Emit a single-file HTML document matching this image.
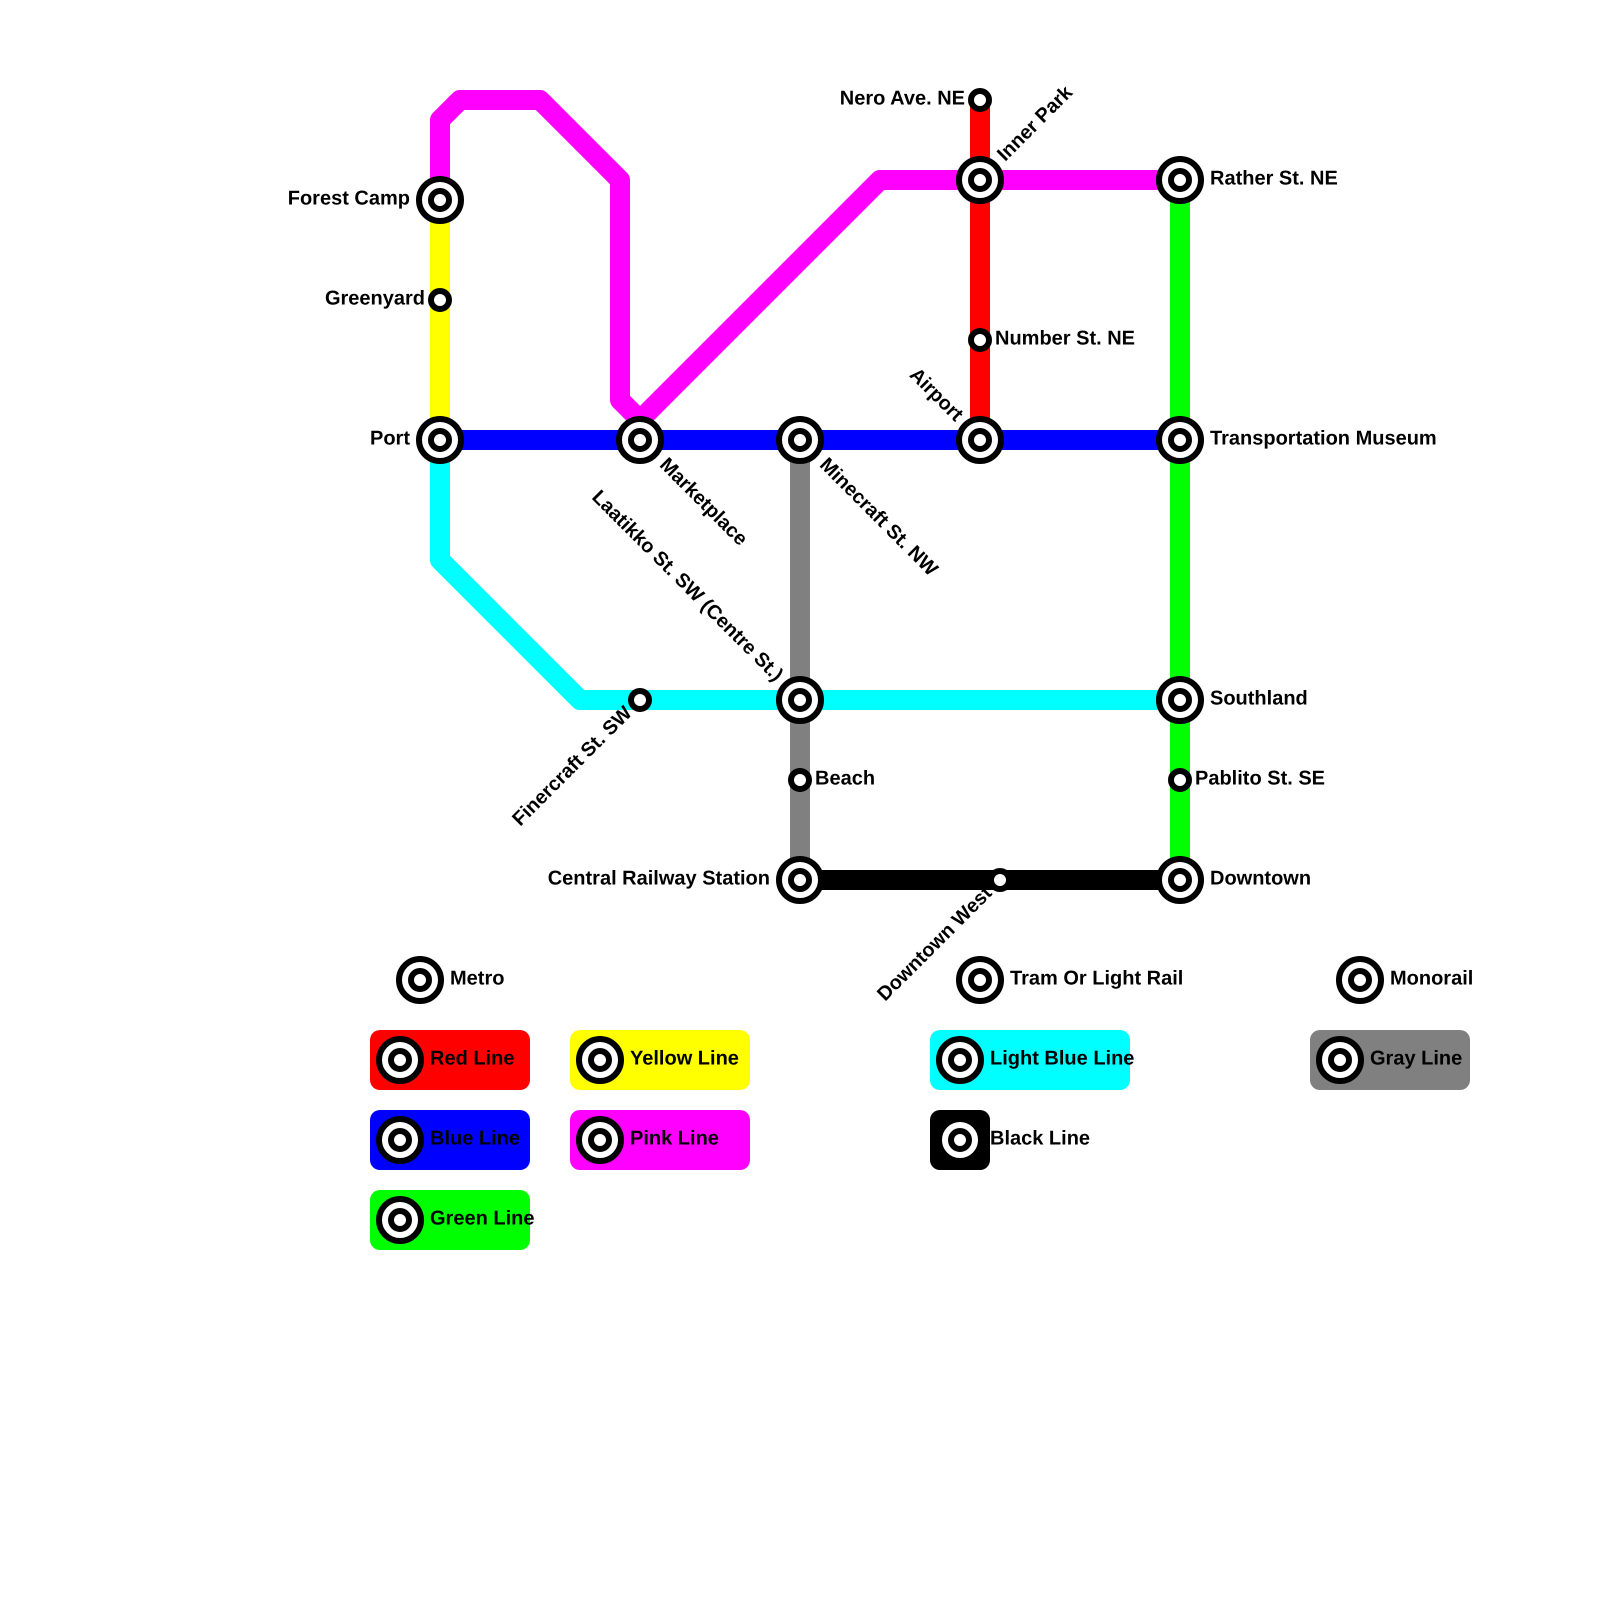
<!DOCTYPE html>
<html><head><meta charset="utf-8"><style>
html,body{margin:0;padding:0;background:#fff}
svg{display:block}
text{font-family:"Liberation Sans",sans-serif;font-weight:bold;font-size:20px;fill:#000;text-rendering:geometricPrecision}
text.r{font-size:19.8px}
.l{fill:none;stroke-width:20;stroke-linejoin:round;stroke-linecap:butt}
.a{fill:#fff;stroke:#000;stroke-width:6}
</style></head><body>
<svg width="1600" height="1600" viewBox="0 0 1600 1600" xmlns="http://www.w3.org/2000/svg">
<defs>
<g id="b"><circle class="a" r="21"/><circle class="a" r="9"/></g>
<g id="s"><circle class="a" r="9"/></g>
</defs>
<rect width="1600" height="1600" fill="#fff"/>
<path class="l" stroke="#ff0000" d="M980 100V440"/>
<path class="l" stroke="#ffff00" d="M440 200V440"/>
<path class="l" stroke="#0000ff" d="M440 440H1180"/>
<path class="l" stroke="#00ff00" d="M1180 180V880"/>
<path class="l" stroke="#ff00ff" d="M440 200V120L460 100H540L620 180V400L640 420L880 180H1180"/>
<path class="l" stroke="#00ffff" d="M440 440V560L580 700H1180"/>
<path class="l" stroke="#808080" d="M800 440V880"/>
<path class="l" stroke="#000000" d="M800 880H1180"/>

<use href="#b" x="440" y="200"/><use href="#s" x="440" y="300"/><use href="#b" x="440" y="440"/>
<use href="#b" x="640" y="440"/><use href="#s" x="640" y="700"/><use href="#b" x="800" y="440"/>
<use href="#b" x="800" y="700"/><use href="#s" x="800" y="780"/><use href="#b" x="800" y="880"/>
<use href="#s" x="980" y="100"/><use href="#b" x="980" y="180"/><use href="#s" x="980" y="340"/>
<use href="#b" x="980" y="440"/><use href="#s" x="1000" y="880"/><use href="#b" x="1180" y="180"/>
<use href="#b" x="1180" y="440"/><use href="#b" x="1180" y="700"/><use href="#s" x="1180" y="780"/>
<use href="#b" x="1180" y="880"/>

<text x="410" y="204.5" text-anchor="end">Forest Camp</text>
<text x="425" y="304.5" text-anchor="end">Greenyard</text>
<text x="410" y="444.5" text-anchor="end">Port</text>
<text x="770" y="884.5" text-anchor="end">Central Railway Station</text>
<text x="965" y="104.5" text-anchor="end">Nero Ave. NE</text>
<text x="1210" y="184.5">Rather St. NE</text>
<text x="995" y="344.5">Number St. NE</text>
<text x="1210" y="444.5">Transportation Museum</text>
<text x="1210" y="704.5">Southland</text>
<text x="1195" y="784.5">Pablito St. SE</text>
<text x="1210" y="884.5">Downtown</text>
<text x="815" y="784.5">Beach</text>

<text class="r" transform="translate(980 180) rotate(-45)" x="30.5" y="5">Inner Park</text>
<text class="r" transform="translate(980 440) rotate(45)" x="-30" y="5" text-anchor="end">Airport</text>
<text class="r" transform="translate(640 440) rotate(45)" x="31.5" y="5">Marketplace</text>
<text class="r" transform="translate(800 440) rotate(45)" x="31.5" y="5">Minecraft St. NW</text>
<text class="r" transform="translate(800 700) rotate(45)" x="-30" y="5" text-anchor="end">Laatikko St. SW (Centre St.)</text>
<text class="r" transform="translate(640 700) rotate(-45)" x="-15" y="5" text-anchor="end">Finercraft St. SW</text>
<text class="r" transform="translate(1000 880) rotate(-45)" x="-15" y="5" text-anchor="end">Downtown West</text>

<use href="#b" x="420" y="980"/><text x="450" y="984.5">Metro</text>
<use href="#b" x="980" y="980"/><text x="1010" y="984.5">Tram Or Light Rail</text>
<use href="#b" x="1360" y="980"/><text x="1390" y="984.5">Monorail</text>

<rect x="370" y="1030" width="160" height="60" rx="10" fill="#ff0000"/><use href="#b" x="400" y="1060"/><text x="430" y="1064.5">Red Line</text>
<rect x="370" y="1110" width="160" height="60" rx="10" fill="#0000ff"/><use href="#b" x="400" y="1140"/><text x="430" y="1144.5">Blue Line</text>
<rect x="370" y="1190" width="160" height="60" rx="10" fill="#00ff00"/><use href="#b" x="400" y="1220"/><text x="430" y="1224.5">Green Line</text>
<rect x="570" y="1030" width="180" height="60" rx="10" fill="#ffff00"/><use href="#b" x="600" y="1060"/><text x="630" y="1064.5">Yellow Line</text>
<rect x="570" y="1110" width="180" height="60" rx="10" fill="#ff00ff"/><use href="#b" x="600" y="1140"/><text x="630" y="1144.5">Pink Line</text>
<rect x="930" y="1030" width="200" height="60" rx="10" fill="#00ffff"/><use href="#b" x="960" y="1060"/><text x="990" y="1064.5">Light Blue Line</text>
<rect x="930" y="1110" width="60" height="60" rx="10" fill="#000000"/><use href="#b" x="960" y="1140"/><text x="990" y="1144.5">Black Line</text>
<rect x="1310" y="1030" width="160" height="60" rx="10" fill="#808080"/><use href="#b" x="1340" y="1060"/><text x="1370" y="1064.5">Gray Line</text>
</svg>
</body></html>
